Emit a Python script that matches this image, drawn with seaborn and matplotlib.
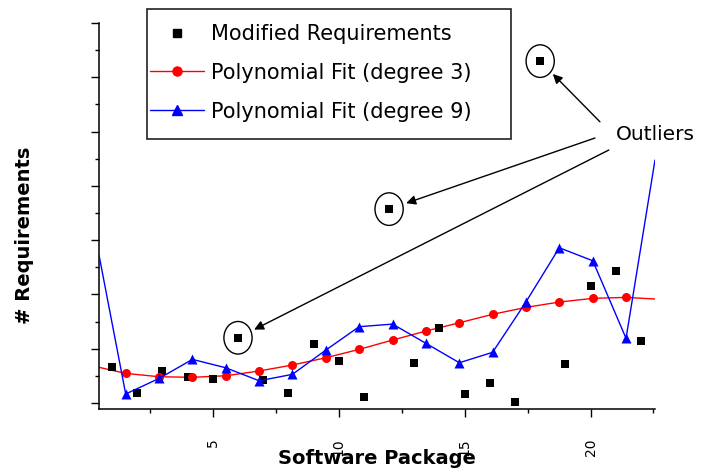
import matplotlib
matplotlib.use("Agg")
import matplotlib.pyplot as plt
from matplotlib.lines import Line2D
from matplotlib.patches import Ellipse, Rectangle
from matplotlib.ticker import MultipleLocator, NullFormatter
import seaborn as sns

# ---- datos ----
packages = list(range(1, 23))
modified_reqs = [32.9, 8.9, 29.7, 24.2, 21.8, 60.1, 21.2, 8.9, 54.1, 39.0, 5.8,
                 178.6, 37.1, 68.8, 8.0, 18.1, 0.9, 314.9, 35.9, 108.0, 121.8, 57.1]
outlier_packages = [6, 12, 18]

fit_x = [1.54, 2.87, 4.19, 5.51, 6.84, 8.16, 9.49, 10.81, 12.14, 13.46,
         14.79, 16.11, 17.44, 18.76, 20.09, 21.41]
fit_deg3 = [27.3, 24.2, 23.7, 25.1, 29.5, 35.0, 41.7, 49.4, 58.0, 66.3,
            73.9, 81.7, 88.1, 93.0, 96.4, 97.3]
fit_deg9 = [8.3, 22.7, 40.2, 32.5, 20.5, 26.4, 48.8, 70.3, 72.7, 55.0,
            37.1, 46.7, 93.3, 143.0, 131.0, 59.6]

# valores de las curvas donde salen del marco
x_range = [0.48, 22.56]
edge_deg3 = [32.9, 95.8]
edge_deg9 = [136.3, 223.8]

labels = ["Modified Requirements", "Polynomial Fit (degree 3)", "Polynomial Fit (degree 9)"]

sns.set_style("ticks")
plt.rcParams["font.family"] = ["DejaVu Sans"]
plt.rcParams["text.color"] = "black"
plt.rcParams["axes.labelcolor"] = "black"
plt.rcParams["xtick.color"] = "black"
plt.rcParams["ytick.color"] = "black"

fig = plt.figure(figsize=(7.12, 4.70), dpi=100)
ax = fig.add_axes([99 / 712, 61 / 470, 556 / 712, 386 / 470])

line_x = [x_range[0]] + fit_x + [x_range[1]]
line3 = [edge_deg3[0]] + fit_deg3 + [edge_deg3[1]]
line9 = [edge_deg9[0]] + fit_deg9 + [edge_deg9[1]]

sns.lineplot(x=line_x, y=line3, ax=ax, color="#ff0000", lw=1, sort=False,
             estimator=None, zorder=2)
sns.scatterplot(x=packages, y=modified_reqs, ax=ax, marker="s", color="black",
                s=40, linewidth=0, zorder=3)
sns.scatterplot(x=fit_x, y=fit_deg3, ax=ax, marker="o", color="#ff0000",
                s=42, linewidth=0, zorder=4)
sns.lineplot(x=line_x, y=line9, ax=ax, color="#0000ff", lw=1, sort=False,
             estimator=None, zorder=5)
sns.scatterplot(x=fit_x, y=fit_deg9, ax=ax, marker="^", color="#0000ff",
                s=52, linewidth=0, zorder=6)

ax.set_xlim(x_range)
ax.set_ylim(-5.5, 350)

# outliers: elipse + flecha
tails = [(0.917, 0.671), (0.892, 0.702), (0.901, 0.744)]
for pkg, tail in zip(outlier_packages, tails):
    val = modified_reqs[packages.index(pkg)]
    ax.add_patch(Ellipse((pkg, val), width=1.12, height=30, fill=False,
                         ec="black", lw=1, zorder=7))
    ax.annotate("", xy=(pkg, val), xytext=tail, textcoords="axes fraction",
                arrowprops=dict(arrowstyle="-|>", color="black", lw=1,
                                shrinkA=0, shrinkB=13, mutation_scale=14),
                annotation_clip=False)
ax.text(1.0, 0.711, "Outliers", transform=ax.transAxes, ha="center",
        va="center", fontsize=14.5, clip_on=False)

# ejes
sns.despine(ax=ax)
for side in ["left", "bottom"]:
    ax.spines[side].set_linewidth(1.1)
    ax.spines[side].set_color("black")
ax.xaxis.set_major_locator(MultipleLocator(5))
ax.xaxis.set_minor_locator(MultipleLocator(2.5))
ax.yaxis.set_major_locator(MultipleLocator(50))
ax.yaxis.set_minor_locator(MultipleLocator(25))
ax.yaxis.set_major_formatter(NullFormatter())
ax.tick_params(axis="both", which="major", length=6, width=1, color="black",
               direction="out")
ax.tick_params(axis="both", which="minor", length=3, width=1, color="black",
               direction="out")
ax.tick_params(axis="x", which="major", labelsize=10, pad=15, labelrotation=90)

ax.set_xlabel("Software Package", fontsize=14, fontweight="bold")
ax.xaxis.set_label_coords(0.5, -0.104)
ax.set_ylabel("# Requirements", fontsize=14, fontweight="bold")
ax.yaxis.set_label_coords(-0.117, 0.451)

# leyenda con marco propio
handles = [
    Line2D([], [], color="black", marker="s", ls="none", markersize=6),
    Line2D([], [], color="#ff0000", marker="o", lw=1, markersize=6.5),
    Line2D([], [], color="#0000ff", marker="^", lw=1, markersize=7),
]
fig.legend(handles, labels, loc="upper left", bbox_to_anchor=(150 / 712, 1 - 24 / 470),
           frameon=False, fontsize=15, handlelength=2.6, handletextpad=0.33,
           borderpad=0, borderaxespad=0, labelspacing=0.9)
fig.add_artist(Rectangle((147 / 712, 1 - 139 / 470), 364 / 712, 130 / 470,
                         transform=fig.transFigure, fill=False, ec="#222222",
                         lw=1.2, zorder=10))

fig.savefig("out.png", dpi=100)
